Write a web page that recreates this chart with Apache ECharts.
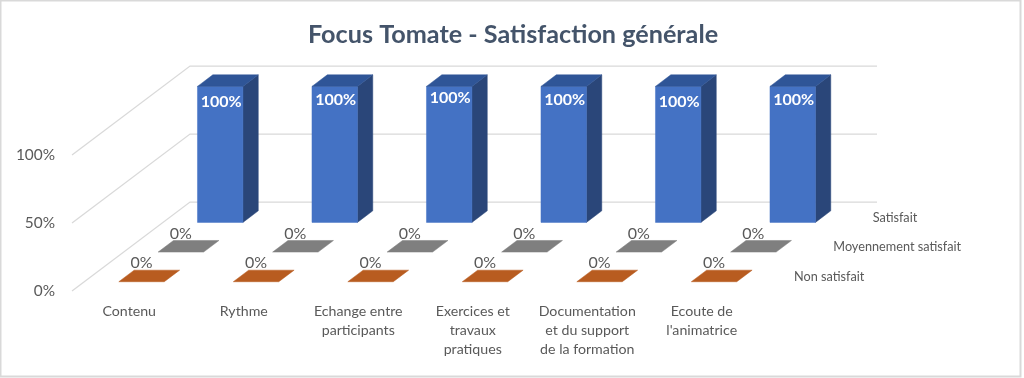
<!DOCTYPE html>
<html>
<head>
<meta charset="utf-8">
<style>
  html, body { margin: 0; padding: 0; background: #fff; }
  #chart { width: 1024px; height: 378px; }
</style>
<script src="https://cdn.jsdelivr.net/npm/echarts@6/dist/echarts.min.js"></script>
</head>
<body>
<div id="chart"></div>
<script>
const categories = [
  'Contenu',
  'Rythme',
  'Echange entre\nparticipants',
  'Exercices et\ntravaux\npratiques',
  'Documentation\net du support\nde la formation',
  'Ecoute de\nl\'animatrice'
];
const seriesNames = ['Non satisfait', 'Moyennement satisfait', 'Satisfait'];
const nonSatisfait = [0, 0, 0, 0, 0, 0];
const moyennement = [0, 0, 0, 0, 0, 0];
const satisfait = [100, 100, 100, 100, 100, 100];
const valueTicks = [0, 50, 100];

// the fake 3d: a full trip from the front of the floor to the back wall, in px
const DEPTH_X = 118;
const DEPTH_Y = -89;
const ROW_GAP = 0.3125; // fraction of a row left empty in front of the bar
const ROW_DEPTH = 0.13; // fraction of the whole depth taken by one bar
const BAR_WIDTH = 0.397; // fraction of a category band
const FONT = 'Lato, "Open Sans", sans-serif';
const TEXT_COLOR = '#595959';
// the labels on the blue bars are not all at the same height in the picture
const topLabelNudge = [0, -2, -4, -2, 0, -2];

const rowPalette = [
  { front: '#b85c20', top: '#b85c20', side: '#8a4518' },
  { front: '#7f7f7f', top: '#7f7f7f', side: '#5f5f5f' },
  { front: '#4472c4', top: '#2f5597', side: '#2a4679' }
];

const shift = (pt, t) => [pt[0] + t * DEPTH_X, pt[1] + t * DEPTH_Y];
const poly = (points, fill) => ({
  type: 'polygon',
  shape: { points },
  style: { fill, stroke: fill, lineWidth: 0.5 }
});

function rowStart(row) {
  return (row + ROW_GAP) / seriesNames.length;
}

function renderBar(row) {
  return (params, api) => {
    const idx = api.value(0);
    const value = api.value(1);
    const band = api.size([1, 0])[0];
    const half = band * BAR_WIDTH / 2;
    const t0 = rowStart(row);
    const c0 = api.coord([idx, 0]);
    const c1 = api.coord([idx, value]);
    const bl = shift([c0[0] - half, c0[1]], t0);
    const br = shift([c0[0] + half, c0[1]], t0);
    const tl = shift([c1[0] - half, c1[1]], t0);
    const tr = shift([c1[0] + half, c1[1]], t0);
    const back = (p) => shift(p, ROW_DEPTH);
    const colors = rowPalette[row];
    const children = [];
    if (value > 0) {
      children.push(poly([br, tr, back(tr), back(br)], colors.side));
      children.push(poly([bl, br, tr, tl], colors.front));
    }
    children.push(poly([tl, tr, back(tr), back(tl)], colors.top));
    children.push({
      type: 'text',
      style: value > 0 ? {
        text: value + '%',
        x: (tl[0] + tr[0]) / 2 + 1,
        y: tl[1] + 15 + topLabelNudge[idx],
        fill: '#ffffff',
        font: 'bold 16px ' + FONT,
        align: 'center',
        verticalAlign: 'middle'
      } : {
        text: value + '%',
        x: (tl[0] + tr[0]) / 2,
        y: back(tl)[1] - 7,
        fill: TEXT_COLOR,
        font: '16px ' + FONT,
        align: 'center',
        verticalAlign: 'middle'
      }
    });
    return { type: 'group', children };
  };
}

// floor and back wall lines, one bent line per value tick
function renderWall(params, api) {
  const value = api.value(1);
  const sys = params.coordSys;
  const y = api.coord([0, value])[1];
  const p0 = [sys.x, y];
  const p1 = shift(p0, 1);
  const p2 = shift([sys.x + sys.width, y], 1);
  return {
    type: 'polyline',
    shape: { points: [p0, p1, p2] },
    style: { fill: null, stroke: '#d9d9d9', lineWidth: 1.25 }
  };
}

// names of the depth axis, at the right end of the floor
function renderDepthLabel(params, api) {
  const row = api.value(0);
  const sys = params.coordSys;
  const t = rowStart(row) + ROW_DEPTH / 2;
  const p = shift([sys.x + sys.width, sys.y + sys.height], t);
  return {
    type: 'text',
    style: {
      text: seriesNames[row],
      x: p[0] + 15,
      y: p[1] + 1,
      fill: TEXT_COLOR,
      font: '12.7px ' + FONT,
      align: 'left',
      verticalAlign: 'middle'
    }
  };
}

const barSeries = [nonSatisfait, moyennement, satisfait].map((values, row) => ({
  name: seriesNames[row],
  type: 'custom',
  renderItem: renderBar(row),
  encode: { x: 0, y: 1 },
  data: values.map((v, i) => [i, v]),
  z: 3 + row
}));

const chart = echarts.init(document.getElementById('chart'), null, { renderer: 'canvas' });
chart.setOption({
  animation: false,
  backgroundColor: '#ffffff',
  title: {
    text: 'Focus Tomate - Satisfaction générale',
    left: 303,
    top: 17,
    textStyle: { color: '#44546a', fontFamily: FONT, fontSize: 25.2, fontWeight: 'bold' }
  },
  graphic: [{
    type: 'rect',
    silent: true,
    z: 0,
    shape: { x: 0.5, y: 0.5, width: 1020, height: 376 },
    style: { fill: null, stroke: '#d9d9d9', lineWidth: 2 }
  }],
  grid: { left: 72, right: 265, top: 155, bottom: 87 },
  xAxis: {
    type: 'category',
    data: categories,
    axisLine: { show: false },
    axisTick: { show: false },
    splitLine: { show: false },
    axisLabel: {
      interval: 0,
      margin: 11,
      color: TEXT_COLOR,
      fontFamily: FONT,
      fontSize: 14.2,
      lineHeight: 19
    }
  },
  yAxis: {
    type: 'value',
    min: 0,
    max: 100,
    interval: 50,
    axisLine: { show: false },
    axisTick: { show: false },
    splitLine: { show: false },
    axisLabel: {
      margin: 17,
      color: TEXT_COLOR,
      fontFamily: FONT,
      fontSize: 15.4,
      padding: [4, 0, 0, 0],
      formatter: '{value}%'
    }
  },
  series: [
    {
      type: 'custom',
      renderItem: renderWall,
      encode: { x: 0, y: 1 },
      data: valueTicks.map((v) => [0, v]),
      silent: true,
      z: 1
    },
    ...barSeries,
    {
      type: 'custom',
      renderItem: renderDepthLabel,
      encode: { x: 0, y: 1 },
      data: seriesNames.map((n, i) => [i, 0]),
      silent: true,
      z: 2
    }
  ]
});
window.addEventListener('resize', () => chart.resize());
</script>
</body>
</html>
